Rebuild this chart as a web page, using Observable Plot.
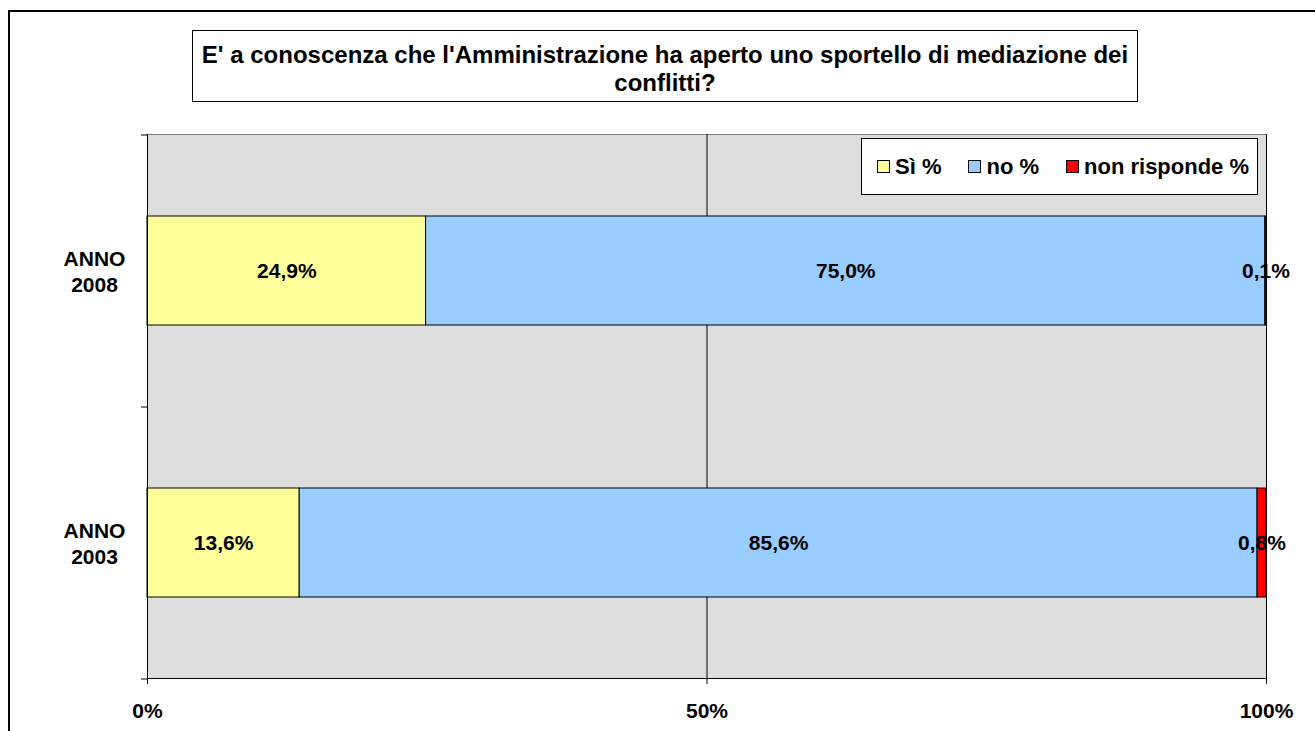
<!DOCTYPE html>
<html>
<head>
<meta charset="utf-8">
<script src="https://cdn.jsdelivr.net/npm/d3@7"></script>
<script src="https://cdn.jsdelivr.net/npm/@observablehq/plot@0.6"></script>
<style>
  html, body { margin: 0; padding: 0; background: #fff; }
  body { width: 1315px; height: 731px; position: relative; overflow: hidden; font-family: "Liberation Sans", Arial, sans-serif; font-weight: bold; }
  #outer { position: absolute; left: 8px; top: 10px; width: 1400px; height: 800px; border-left: 2px solid #000; border-top: 2px solid #000; }
  #chart { position: absolute; left: 0; top: 0; }
  #title { position: absolute; left: 192px; top: 30px; width: 944px; border: 1px solid #000; background: #fff; text-align: center; font-size: 24px; line-height: 28px; padding-top: 10px; box-sizing: content-box; height: 60px; color: #000; white-space: nowrap; }
  #legend { position: absolute; left: 861px; top: 138px; width: 397px; height: 57px; box-sizing: border-box; padding-left: 15px; border: 1px solid #000; background: #fff; display: flex; align-items: center; font-size: 22px; color: #000; }
  .item { display: flex; align-items: center; }
  .sw { width: 11px; height: 11px; border: 1px solid #000; margin-right: 5px; }
</style>
</head>
<body>
<div id="outer"></div>
<div id="chart"></div>
<div id="title">E' a conoscenza che l'Amministrazione ha aperto uno sportello di mediazione dei<br>conflitti?</div>
<div id="legend"></div>
<script>
const years = ["ANNO 2008", "ANNO 2003"];
const answers = ["Sì %", "no %", "non risponde %"];
const colors = ["#FFFF99", "#99CCFF", "#FF0000"];
const values2008 = [24.9, 75.0, 0.1];
const values2003 = [13.6, 85.6, 0.8];
const xTicks = [0, 50, 100];

const data = [];
answers.forEach((a, i) => {
  data.push({year: years[0], answer: a, value: values2008[i]});
  data.push({year: years[1], answer: a, value: values2003[i]});
});

const W = 1315, H = 731;
const mL = 147, mR = 49, mT = 134, mB = 53;
const step = (H - mT - mB) / 2;
const fmt = v => v.toFixed(1).replace(".", ",") + "%";

const chart = Plot.plot({
  width: W, height: H,
  marginLeft: mL, marginRight: mR, marginTop: mT, marginBottom: mB,
  style: {fontFamily: "'Liberation Sans', Arial, sans-serif", fontWeight: "bold", fontSize: "21px", background: "transparent", color: "#000"},
  x: {domain: [0, 100]},
  y: {domain: years, paddingInner: 0.6, paddingOuter: 0.3},
  color: {domain: answers, range: colors},
  marks: [
    Plot.frame({fill: "#DDDDDD", stroke: "#808080"}),
    Plot.ruleX([50, 100], {stroke: "#000", strokeWidth: 1}),
    Plot.barX(data, Plot.stackX({x: "value", y: "year", fill: "answer", stroke: "#000", strokeWidth: 1, order: answers})),
    Plot.text(data, Plot.stackX({x: "value", y: "year", z: "answer", order: answers, text: d => fmt(d.value), fill: "#000", fontSize: 21, fontWeight: "bold"})),
    Plot.ruleX([0], {stroke: "#000"}),
    Plot.frame({anchor: "bottom", stroke: "#000"}),
    Plot.axisX({ticks: xTicks, tickSize: 6, tickPadding: 19, tickFormat: d => d + "%", label: null, fontSize: 21}),
    Plot.axisY({tickSize: 0, tickPadding: 53, textAnchor: "middle", lineHeight: 1.2, label: null, tickFormat: d => d.replace(" ", "\n"), fontSize: 21}),
    Plot.axisY({tickSize: 6, tickFormat: () => "", label: null, dy: -step / 2}),
    Plot.axisY({ticks: [years[1]], tickSize: 6, tickFormat: () => "", label: null, dy: step / 2})
  ]
});
document.getElementById("chart").appendChild(chart);

const legend = document.getElementById("legend");
answers.forEach((a, i) => {
  const it = document.createElement("div");
  it.className = "item";
  it.style.marginRight = i < answers.length - 1 ? "27px" : "0";
  const sw = document.createElement("div");
  sw.className = "sw";
  sw.style.background = colors[i];
  const t = document.createElement("span");
  t.textContent = a;
  it.appendChild(sw); it.appendChild(t);
  legend.appendChild(it);
});
</script>
</body>
</html>
